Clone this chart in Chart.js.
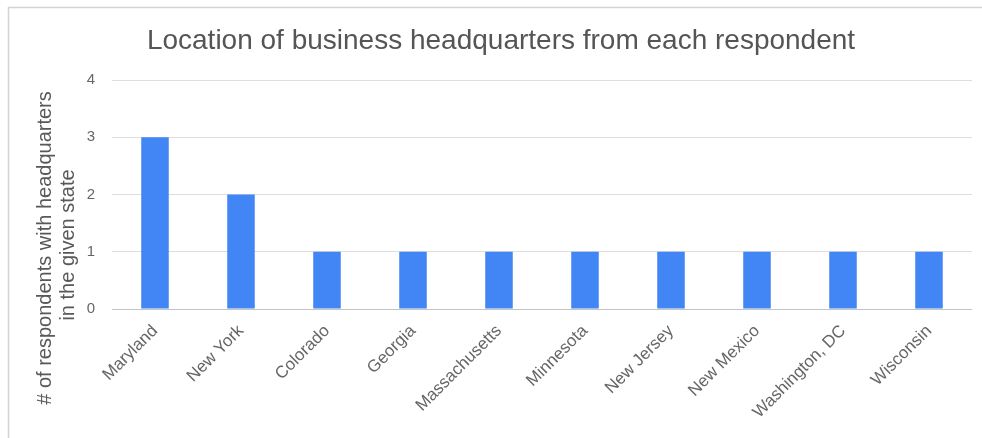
<!DOCTYPE html>
<html><head><meta charset="utf-8">
<script src="https://cdn.jsdelivr.net/npm/chart.js@4/dist/chart.umd.min.js"></script>
<style>html,body{margin:0;padding:0;background:#fff;overflow:hidden}canvas{display:block}</style>
</head><body>
<canvas id="c" width="982" height="438"></canvas>
<script>
const categories = ["Maryland","New York","Colorado","Georgia","Massachusetts","Minnesota","New Jersey","New Mexico","Washington, DC","Wisconsin"];
const respondents = [3,2,1,1,1,1,1,1,1,1];
const yTicks = [0,1,2,3,4];
const chartTitle = "Location of business headquarters from each respondent";
const yTitleLines = ["# of respondents with headquarters","in the given state"];

const FONT = '"Liberation Sans", Arial, sans-serif';

const decor = {
  id: 'decor',
  beforeDraw(chart) {
    const ctx = chart.ctx;
    ctx.save();
    ctx.strokeStyle = '#d4d4d4';
    ctx.lineWidth = 1.5;
    ctx.strokeRect(8.5, 7.5, 1200, 1200);
    ctx.restore();
  },
  afterDraw(chart) {
    const ctx = chart.ctx;
    ctx.save();
    ctx.fillStyle = '#555';
    ctx.font = '28px ' + FONT;
    ctx.textAlign = 'center';
    ctx.textBaseline = 'alphabetic';
    ctx.fillText(chartTitle, 501, 49);
    ctx.restore();

    ctx.save();
    ctx.fillStyle = '#595959';
    ctx.font = '20px ' + FONT;
    ctx.textAlign = 'center';
    ctx.textBaseline = 'middle';
    ctx.translate(45, 248);
    ctx.rotate(-Math.PI / 2);
    ctx.fillText(yTitleLines[0], 0, 0);
    ctx.restore();

    ctx.save();
    ctx.fillStyle = '#595959';
    ctx.font = '20px ' + FONT;
    ctx.textAlign = 'center';
    ctx.textBaseline = 'middle';
    ctx.translate(68, 245);
    ctx.rotate(-Math.PI / 2);
    ctx.fillText(yTitleLines[1], 0, 0);
    ctx.restore();
  }
};

new Chart(document.getElementById('c'), {
  type: 'bar',
  data: {
    labels: categories,
    datasets: [{
      data: respondents,
      backgroundColor: '#4285F4',
      borderWidth: 0,
      barPercentage: 0.32,
      categoryPercentage: 1
    }]
  },
  plugins: [decor],
  options: {
    responsive: false,
    devicePixelRatio: 1,
    animation: false,
    layout: { padding: { top: 80, left: 0, right: 10, bottom: 0 } },
    plugins: { legend: { display: false }, tooltip: { enabled: false }, title: { display: false } },
    scales: {
      x: {
        offset: true,
        grid: { display: false, drawTicks: false },
        border: { display: false },
        ticks: {
          maxRotation: 45, minRotation: 45, autoSkip: false,
          padding: 12,
          color: '#666',
          font: { family: FONT, size: 17 }
        },
        afterFit(scale) { scale.height = 129; }
      },
      y: {
        min: 0, max: 4,
        afterBuildTicks(scale) { scale.ticks = yTicks.map(v => ({ value: v })); },
        grid: {
          drawTicks: false,
          color: (c) => (c.tick && c.tick.value === 0) ? '#c4c4c4' : '#dedede',
          lineWidth: 1
        },
        border: { display: false },
        ticks: {
          padding: 17,
          color: '#666',
          font: { family: FONT, size: 15 }
        },
        afterFit(scale) { scale.width = 112; }
      }
    }
  }
});
</script>
</body></html>
